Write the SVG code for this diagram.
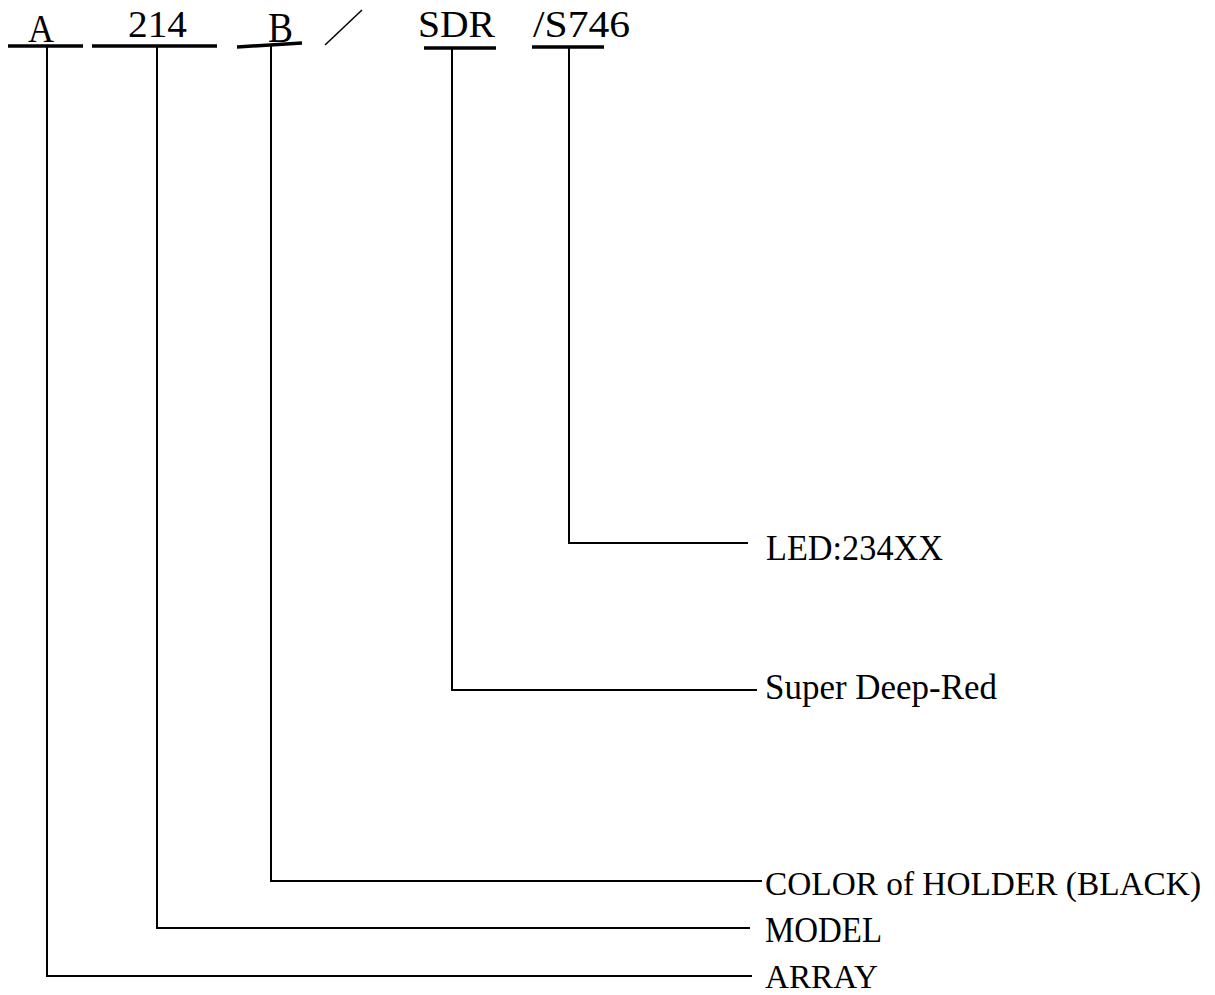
<svg xmlns="http://www.w3.org/2000/svg" width="1215" height="995" viewBox="0 0 1215 995">
<style>
.t{font-family:"Liberation Serif","Times New Roman",serif;fill:#000}
.ul{stroke:#000;stroke-width:3.5;fill:none}
.c{stroke:#000;stroke-width:2;fill:none}
</style>
<rect width="1215" height="995" fill="#fff"/>
<g id="code">
<g id="code-A"><text class="t" x="28" y="42" font-size="40" textLength="26" lengthAdjust="spacingAndGlyphs">A</text><line class="ul" x1="8" y1="46" x2="83" y2="46"/></g>
<g id="code-214"><text class="t" x="128" y="37" font-size="38" textLength="59" lengthAdjust="spacingAndGlyphs">214</text><line class="ul" x1="92" y1="46" x2="217" y2="46"/></g>
<g id="code-B"><text class="t" x="268" y="42" font-size="42" textLength="25" lengthAdjust="spacingAndGlyphs">B</text><line class="ul" x1="237" y1="47" x2="302" y2="43"/></g>
<g id="code-slash"><line stroke="#000" stroke-width="1.5" x1="325" y1="45" x2="362" y2="10"/></g>
<g id="code-SDR"><text class="t" x="418" y="37" font-size="38" textLength="77" lengthAdjust="spacingAndGlyphs">SDR</text><line class="ul" x1="424" y1="48" x2="496" y2="48"/></g>
<g id="code-S746"><text class="t" x="533" y="37" font-size="38" textLength="97" lengthAdjust="spacingAndGlyphs">/S746</text><line class="ul" x1="532" y1="47" x2="604" y2="47"/></g>
</g>
<g id="connectors">
<polyline class="c" points="569,47 569,543 748,543"/>
<polyline class="c" points="452,48 452,690 757,690"/>
<polyline class="c" points="271,45 271,881 762,881"/>
<polyline class="c" points="157,46 157,928 750,928"/>
<polyline class="c" points="47,46 47,976 752,976"/>
</g>
<g id="label-led"><text class="t" x="766" y="560" font-size="35" textLength="177" lengthAdjust="spacingAndGlyphs">LED:234XX</text></g>
<g id="label-sdr"><text class="t" x="765" y="699" font-size="35" textLength="232" lengthAdjust="spacingAndGlyphs">Super Deep-Red</text></g>
<g id="label-color"><text class="t" x="765" y="895" font-size="34" textLength="436" lengthAdjust="spacingAndGlyphs">COLOR of HOLDER (BLACK)</text></g>
<g id="label-model"><text class="t" x="765" y="942" font-size="35" textLength="117" lengthAdjust="spacingAndGlyphs">MODEL</text></g>
<g id="label-array"><text class="t" x="765" y="988" font-size="34" textLength="113" lengthAdjust="spacingAndGlyphs">ARRAY</text></g>
</svg>
